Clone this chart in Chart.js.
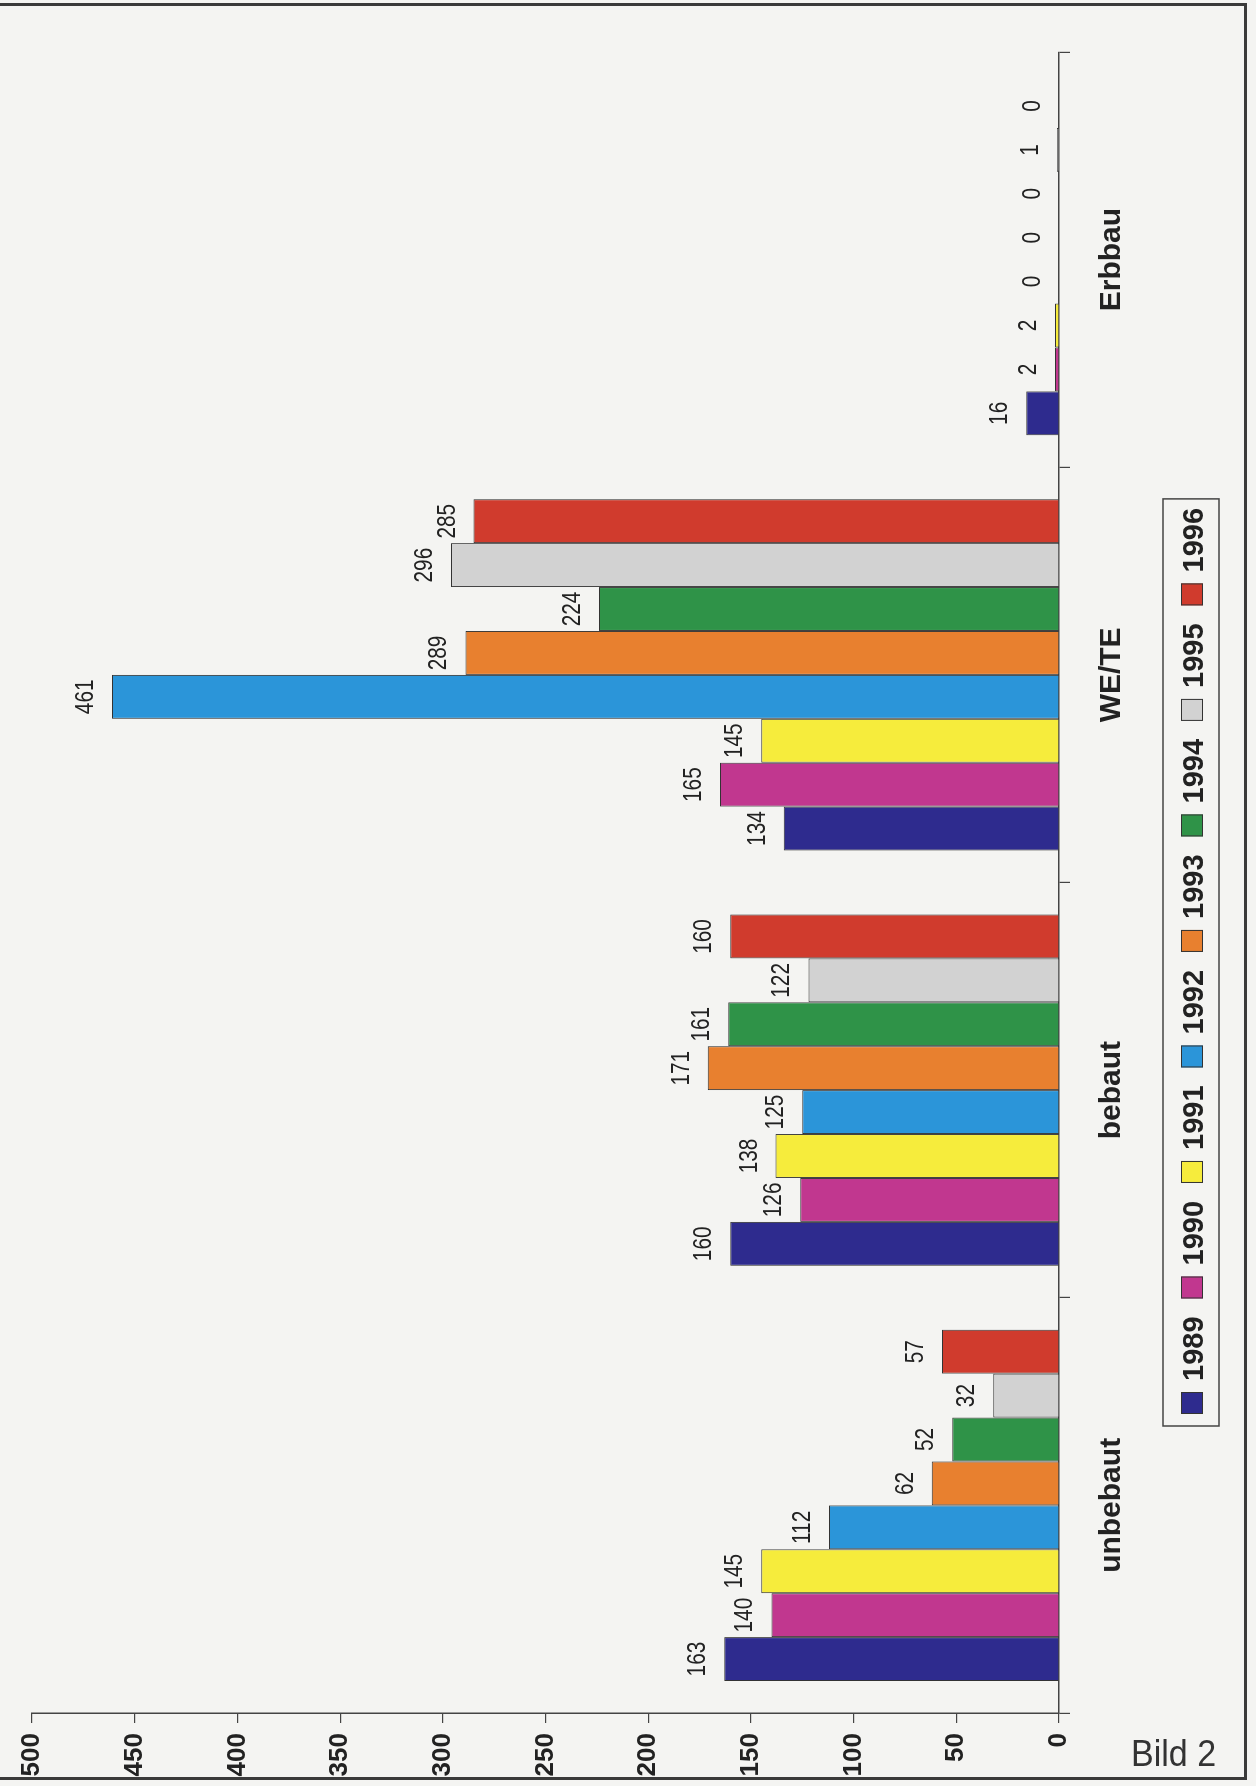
<!DOCTYPE html>
<html>
<head>
<meta charset="utf-8">
<script src="https://cdn.jsdelivr.net/npm/chart.js@4"></script>
<style>
    html, body {
        margin: 0;
        padding: 0;
        background: #f4f4f2;
    }
    .page {
        position: relative;
        width: 1256px;
        height: 1786px;
        overflow: hidden;
        background: #f4f4f2;
    }
    .frame {
        position: absolute;
        left: -4px;
        top: 3px;
        width: 1251px;
        height: 1777px;
        border: 3px solid #3a3a3a;
        box-sizing: border-box;
    }
    #chartWrap {
        position: absolute;
        left: 0;
        top: 0;
        width: 1786px;
        height: 1256px;
        transform-origin: 0 0;
        transform: translate(0, 1786px) rotate(-90deg);
    }
    .caption {
        position: absolute;
        left: 1131px;
        top: 1733px;
        font-family: "Liberation Sans", Arial, sans-serif;
        font-size: 37px;
        color: #333;
        transform: scaleX(0.92);
        transform-origin: 0 0;
    }
</style>
</head>
<body>
<div class="page">
    <div id="chartWrap"><canvas id="chart" width="1786" height="1256"></canvas></div>
    <div class="frame"></div>
    <div class="caption">Bild 2</div>
</div>
<script>
const categories = ['unbebaut', 'bebaut', 'WE/TE', 'Erbbau'];
const years = ['1989', '1990', '1991', '1992', '1993', '1994', '1995', '1996'];

const values1989 = [163, 160, 134, 16];
const values1990 = [140, 126, 165, 2];
const values1991 = [145, 138, 145, 2];
const values1992 = [112, 125, 461, 0];
const values1993 = [62, 171, 289, 0];
const values1994 = [52, 161, 224, 0];
const values1995 = [32, 122, 296, 1];
const values1996 = [57, 160, 285, 0];

const valueMax = 500;
const valueStep = 50;

const yearColors = ['#2e2b8e', '#c1378f', '#f6ec3c', '#2b95d9', '#e8802f', '#2f9348', '#d2d2d2', '#d03b2d'];
const seriesValues = [values1989, values1990, values1991, values1992, values1993, values1994, values1995, values1996];

const FONT = '"Liberation Sans", Arial, sans-serif';
const INK = '#222';

// value labels above each bar, slightly narrowed like the print
const barLabels = {
    id: 'barLabels',
    afterDatasetsDraw(chart) {
        const ctx = chart.ctx;
        ctx.save();
        ctx.fillStyle = INK;
        ctx.font = '26px ' + FONT;
        ctx.textAlign = 'center';
        ctx.textBaseline = 'alphabetic';
        chart.data.datasets.forEach((ds, i) => {
            const meta = chart.getDatasetMeta(i);
            meta.data.forEach((bar, j) => {
                ctx.save();
                ctx.translate(bar.x, bar.y - 19);
                ctx.scale(0.8, 1);
                ctx.fillText(String(ds.data[j]), 0, 0);
                ctx.restore();
            });
        });
        ctx.restore();
    }
};

// boxed legend under the category labels
const boxLegend = {
    id: 'boxLegend',
    afterDraw(chart) {
        const ctx = chart.ctx;
        const top = 1163, bottom = 1219;
        const sw = 22, gapText = 11, gapItem = 18;
        let x = 372;
        ctx.save();
        ctx.font = 'bold 29px ' + FONT;
        ctx.textBaseline = 'alphabetic';
        ctx.textAlign = 'left';
        chart.data.datasets.forEach(ds => {
            ctx.fillStyle = ds.backgroundColor;
            ctx.fillRect(x, 1181, sw, sw);
            ctx.strokeStyle = '#333';
            ctx.lineWidth = 1;
            ctx.strokeRect(x + 0.5, 1181.5, sw - 1, sw - 1);
            x += sw + gapText;
            ctx.fillStyle = INK;
            ctx.fillText(ds.label, x, 1203);
            x += ctx.measureText(ds.label).width + gapItem;
        });
        ctx.strokeStyle = '#444';
        ctx.lineWidth = 1.5;
        ctx.strokeRect(360, top, x - gapItem + 9 - 360, bottom - top);
        ctx.restore();
    }
};

const datasets = years.map((year, i) => ({
    label: year,
    data: seriesValues[i],
    backgroundColor: yearColors[i],
    borderColor: '#333',
    borderWidth: 1,
    categoryPercentage: 0.846,
    barPercentage: 1.0
}));

new Chart(document.getElementById('chart').getContext('2d'), {
    type: 'bar',
    data: { labels: categories, datasets: datasets },
    options: {
        responsive: false,
        animation: false,
        devicePixelRatio: 1,
        layout: { padding: { top: 32, right: 52, left: 0, bottom: 0 } },
        plugins: {
            legend: { display: false },
            tooltip: { enabled: false }
        },
        scales: {
            x: {
                grid: { drawOnChartArea: false, drawTicks: true, tickLength: 11, color: '#444', lineWidth: 1.2 },
                border: { color: '#444', width: 1.5 },
                ticks: { color: INK, font: { family: FONT, size: 30, weight: 'bold' }, padding: 24 },
                afterFit(scale) { scale.height = 197; }
            },
            y: {
                min: 0,
                max: valueMax,
                grid: { drawOnChartArea: false, drawTicks: true, tickLength: 10, color: '#444', lineWidth: 1.2 },
                border: { color: '#444', width: 1.5 },
                ticks: { stepSize: valueStep, color: INK, font: { family: FONT, size: 26, weight: 'bold' }, padding: 10 },
                afterFit(scale) { scale.width = 73; }
            }
        }
    },
    plugins: [barLabels, boxLegend]
});
</script>
</body>
</html>
